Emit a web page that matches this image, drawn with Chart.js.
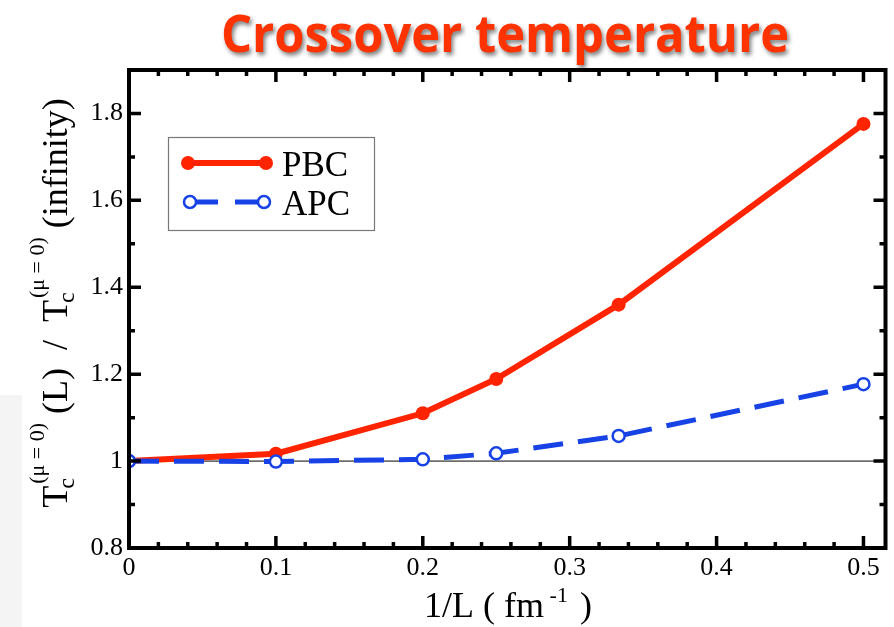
<!DOCTYPE html>
<html lang="en">
<head>
    <meta charset="UTF-8">
    <title>Crossover temperature</title>
    <style>
        html, body {
            margin: 0;
            padding: 0;
            background: #fff;
        }
        .wrap {
            position: relative;
            width: 894px;
            height: 627px;
        }
        .shade {
            position: absolute;
            left: 0;
            top: 395px;
            width: 22px;
            height: 232px;
            background: #f4f4f4;
        }
        canvas {
            position: absolute;
            left: 0;
            top: 0;
        }
    </style>
</head>
<body>
    <div class="wrap">
        <div class="shade"></div>
        <canvas id="chart" width="894" height="627"></canvas>
    </div>

    <script src="https://cdn.jsdelivr.net/npm/chart.js"></script>
    <script>
        // data
        const xValues = [0, 0.1, 0.2, 0.25, 1 / 3, 0.5];
        const pbcValues = [1.0, 1.017, 1.110, 1.189, 1.360, 1.776];
        const apcValues = [1.0, 0.999, 1.004, 1.018, 1.058, 1.177];
        const xTicks = [0, 0.1, 0.2, 0.3, 0.4, 0.5];
        const yTicks = [0.8, 1.0, 1.2, 1.4, 1.6, 1.8];
        const xRange = [0, 0.515];
        const yRange = [0.8, 1.9];

        const RED = '#ff2400';
        const BLUE = '#1742e6';
        const SERIF = "'Liberation Serif', 'Times New Roman', serif";

        const toPoints = ys => xValues.map((x, i) => ({ x: x, y: ys[i] }));

        // draws a run of text pieces (some raised / lowered) along the x axis of ctx
        function drawRich(ctx, parts, startX) {
            let x = startX;
            parts.forEach(p => {
                if (p.stack) {
                    let w = 0;
                    p.stack.forEach(s => {
                        ctx.font = s.size + 'px ' + SERIF;
                        ctx.fillText(s.t, x + (s.dx || 0), s.dy);
                        w = Math.max(w, ctx.measureText(s.t).width + (s.dx || 0));
                    });
                    x += w;
                } else {
                    ctx.font = p.size + 'px ' + SERIF;
                    ctx.fillText(p.t, x, p.dy || 0);
                    x += ctx.measureText(p.t).width + (p.gap || 0);
                }
            });
            return x - startX;
        }

        function richWidth(ctx, parts) {
            ctx.save();
            ctx.globalAlpha = 0;
            const w = drawRich(ctx, parts, 0);
            ctx.restore();
            return w;
        }

        const yTitleParts = [
            { t: 'T', size: 36 },
            { stack: [{ t: 'c', size: 24, dy: 7, dx: -3 }, { t: '(μ = 0)', size: 22, dy: -23, dx: 2 }] },
            { t: ' (L)  /  ', size: 36 },
            { t: 'T', size: 36 },
            { stack: [{ t: 'c', size: 24, dy: 7, dx: -3 }, { t: '(μ = 0)', size: 22, dy: -23, dx: 2 }] },
            { t: ' (infinity)', size: 36 }
        ];
        const xTitleParts = [
            { t: '1/L ( fm', size: 36 },
            { t: ' -1', size: 22, dy: -15, gap: 3 },
            { t: ' )', size: 36 }
        ];

        const decor = {
            id: 'decor',
            afterDatasetsDraw(chart) {
                const ctx = chart.ctx;
                const a = chart.chartArea;
                const xs = chart.scales.x;
                const ys = chart.scales.y;
                ctx.save();
                ctx.strokeStyle = '#000';
                ctx.lineWidth = 3.5;
                ctx.lineCap = 'butt';

                // x ticks, bottom and top, pointing inward
                ctx.beginPath();
                for (let i = 0; i < xTicks.length; i++) {
                    const v = xTicks[i];
                    const px = xs.getPixelForValue(v);
                    ctx.moveTo(px, a.bottom); ctx.lineTo(px, a.bottom - 12);
                    ctx.moveTo(px, a.top); ctx.lineTo(px, a.top + 12);
                    for (let k = 1; k < 5; k++) {
                        const m = v + k * 0.02;
                        if (m > xRange[1]) break;
                        const mx = xs.getPixelForValue(m);
                        ctx.moveTo(mx, a.bottom); ctx.lineTo(mx, a.bottom - 6);
                        ctx.moveTo(mx, a.top); ctx.lineTo(mx, a.top + 6);
                    }
                }
                // y ticks, left and right
                for (let i = 0; i < yTicks.length; i++) {
                    const v = yTicks[i];
                    const py = ys.getPixelForValue(v);
                    ctx.moveTo(a.left, py); ctx.lineTo(a.left + 12, py);
                    ctx.moveTo(a.right, py); ctx.lineTo(a.right - 12, py);
                    const m = v + 0.1;
                    if (m < yRange[1] - 0.01) {
                        const my = ys.getPixelForValue(m);
                        ctx.moveTo(a.left, my); ctx.lineTo(a.left + 6, my);
                        ctx.moveTo(a.right, my); ctx.lineTo(a.right - 6, my);
                    }
                }
                ctx.stroke();

                // frame
                ctx.lineWidth = 4;
                ctx.strokeRect(a.left, a.top, a.right - a.left, a.bottom - a.top);

                // legend box
                ctx.lineWidth = 1.2;
                ctx.strokeStyle = '#777';
                ctx.strokeRect(168.5, 137.5, 206, 93);

                ctx.lineWidth = 6;
                ctx.strokeStyle = RED;
                ctx.beginPath();
                ctx.moveTo(188, 163); ctx.lineTo(266, 163);
                ctx.stroke();
                ctx.fillStyle = RED;
                [188, 266].forEach(cx => {
                    ctx.beginPath(); ctx.arc(cx, 163, 7, 0, Math.PI * 2); ctx.fill();
                });

                ctx.lineWidth = 5;
                ctx.strokeStyle = BLUE;
                ctx.setLineDash([28, 17]);
                ctx.beginPath();
                ctx.moveTo(190, 202); ctx.lineTo(264, 202);
                ctx.stroke();
                ctx.setLineDash([]);
                ctx.lineWidth = 2.5;
                ctx.fillStyle = '#fff';
                [190, 264].forEach(cx => {
                    ctx.beginPath(); ctx.arc(cx, 202, 6, 0, Math.PI * 2); ctx.fill(); ctx.stroke();
                });

                ctx.fillStyle = '#000';
                ctx.font = '35px ' + SERIF;
                ctx.textBaseline = 'alphabetic';
                ctx.textAlign = 'left';
                ctx.fillText('PBC', 282, 176);
                ctx.fillText('APC', 282, 215);
                ctx.restore();
            },
            afterDraw(chart) {
                const ctx = chart.ctx;
                ctx.save();
                ctx.fillStyle = '#000';
                ctx.textAlign = 'left';
                ctx.textBaseline = 'alphabetic';

                // y axis title, rotated
                const wy = richWidth(ctx, yTitleParts);
                ctx.save();
                ctx.translate(67, 303);
                ctx.rotate(-Math.PI / 2);
                drawRich(ctx, yTitleParts, -wy / 2);
                ctx.restore();

                // x axis title
                const wx = richWidth(ctx, xTitleParts);
                ctx.save();
                ctx.translate(0, 617);
                drawRich(ctx, xTitleParts, 508 - wx / 2);
                ctx.restore();
                ctx.restore();

                // chart title with drop shadow
                ctx.save();
                ctx.font = "bold 52px 'Open Sans', 'Liberation Sans', sans-serif";
                ctx.textAlign = 'center';
                ctx.textBaseline = 'alphabetic';
                ctx.shadowColor = 'rgba(0, 0, 0, 0.5)';
                ctx.shadowOffsetX = 2;
                ctx.shadowOffsetY = 3;
                ctx.shadowBlur = 4;
                ctx.fillStyle = '#ff3300';
                ctx.translate(505, 52);
                ctx.scale(0.94, 1);
                ctx.fillText('Crossover temperature', 0, 0);
                ctx.restore();
            }
        };

        const ctx = document.getElementById('chart').getContext('2d');
        const chart = new Chart(ctx, {
            type: 'line',
            data: {
                datasets: [
                    {
                        label: 'APC',
                        data: toPoints(apcValues),
                        borderColor: BLUE,
                        borderWidth: 5,
                        borderDash: [30, 15],
                        pointRadius: 6,
                        pointBorderWidth: 2.5,
                        pointBorderColor: BLUE,
                        pointBackgroundColor: '#fff',
                        tension: 0,
                        order: 1
                    },
                    {
                        label: 'PBC',
                        data: toPoints(pbcValues),
                        borderColor: RED,
                        borderWidth: 6,
                        pointRadius: 7,
                        pointBorderWidth: 0,
                        pointBackgroundColor: RED,
                        tension: 0,
                        order: 2
                    },
                    {
                        label: 'ref',
                        data: [{ x: xRange[0], y: 1 }, { x: xRange[1], y: 1 }],
                        borderColor: '#000',
                        borderWidth: 1,
                        pointRadius: 0,
                        order: 3
                    }
                ]
            },
            options: {
                responsive: false,
                animation: false,
                devicePixelRatio: 1,
                layout: {
                    padding: { top: 70, right: 0, left: 0, bottom: 0 }
                },
                plugins: {
                    legend: { display: false },
                    tooltip: { enabled: false },
                    title: { display: false }
                },
                scales: {
                    x: {
                        type: 'linear',
                        min: xRange[0],
                        max: xRange[1],
                        afterBuildTicks: s => { s.ticks = xTicks.map(v => ({ value: v })); },
                        afterFit: s => { s.height = 79; },
                        grid: { display: false, drawTicks: false },
                        border: { display: false },
                        ticks: {
                            color: '#000',
                            font: { family: SERIF, size: 26 },
                            padding: 5,
                            maxRotation: 0,
                            callback: v => String(Number(v.toFixed(2)))
                        }
                    },
                    y: {
                        type: 'linear',
                        min: yRange[0],
                        max: yRange[1],
                        afterBuildTicks: s => { s.ticks = yTicks.map(v => ({ value: v })); },
                        afterFit: s => { s.width = 129; },
                        grid: { display: false, drawTicks: false },
                        border: { display: false },
                        ticks: {
                            color: '#000',
                            font: { family: SERIF, size: 26 },
                            padding: 6,
                            callback: v => String(Number(v.toFixed(2)))
                        }
                    }
                }
            },
            plugins: [decor]
        });
    </script>
</body>
</html>
